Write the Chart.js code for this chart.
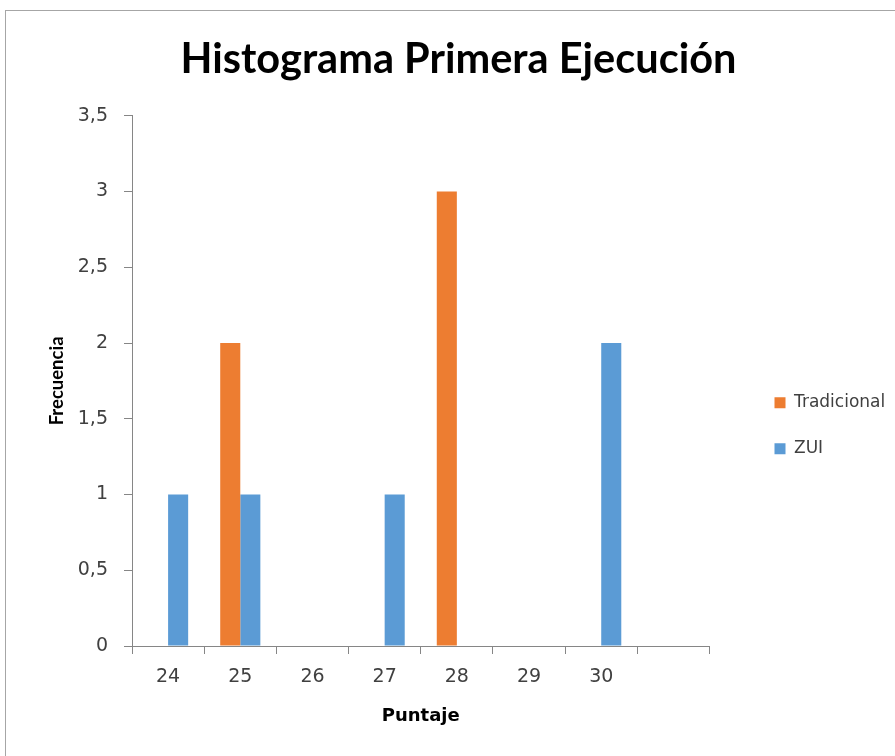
<!DOCTYPE html>
<html lang="es">
<head>
  <meta charset="utf-8">
  <title>Histograma Primera Ejecución</title>
  <script src="https://cdn.jsdelivr.net/npm/chart.js"></script>
  <style>
    body { margin: 0; background: #fff; }
    #marco {
      position: absolute; left: 5px; top: 10px;
      width: 900px; height: 760px;
      border: 1px solid #a6a6a6;
    }
    #lienzo { position: absolute; left: 0; top: 0; }
  </style>
</head>
<body>
  <div id="marco"></div>
  <canvas id="lienzo" width="895" height="756"></canvas>

  <script>
    // Datos del histograma
    const puntajes = ['24', '25', '26', '27', '28', '29', '30', ''];
    const tradicional = [0, 2, 0, 0, 3, 0, 0, 0];
    const zui = [1, 1, 0, 1, 0, 0, 2, 0];
    const marcasY = [0, 0.5, 1, 1.5, 2, 2.5, 3, 3.5];

    const fuenteTitulo = 'Lato, "Open Sans", sans-serif';
    const fuente = '"DejaVu Sans", sans-serif';
    const gris = '#868686';
    const texto = '#404040';

    const ctx = document.getElementById('lienzo').getContext('2d');

    new Chart(ctx, {
      type: 'bar',
      data: {
        labels: puntajes,
        datasets: [{
          label: 'Tradicional',
          data: tradicional,
          backgroundColor: '#ED7D31',
          borderWidth: 0
        }, {
          label: 'ZUI',
          data: zui,
          backgroundColor: '#5B9BD5',
          borderWidth: 0
        }]
      },
      options: {
        responsive: false,
        animation: false,
        categoryPercentage: 0.556,
        barPercentage: 1,
        layout: {
          padding: { left: 28, right: 6, top: 35, bottom: 29 }
        },
        plugins: {
          title: {
            display: true,
            text: 'Histograma Primera Ejecución',
            color: '#000',
            font: { family: fuenteTitulo, size: 41.5, weight: 'bold' },
            padding: { top: 0, bottom: 31 }
          },
          legend: {
            position: 'right',
            title: { display: true, text: '', padding: { top: 0, bottom: 75 } },
            labels: {
              color: texto,
              font: { family: fuente, size: 17 },
              boxWidth: 11,
              boxHeight: 11,
              padding: 29
            }
          },
          tooltip: { enabled: false }
        },
        scales: {
          x: {
            afterFit: function (eje) { eje.height = 81; },
            grid: {
              offset: true,
              drawOnChartArea: false,
              drawTicks: true,
              tickLength: 8,
              tickColor: gris
            },
            border: { display: true, color: gris, width: 1 },
            ticks: {
              color: texto,
              font: { family: fuente, size: 19 },
              padding: 12,
              maxRotation: 0
            },
            title: {
              display: true,
              text: 'Puntaje',
              color: '#000',
              font: { family: fuente, size: 18, weight: 'bold' },
              padding: { top: 17, bottom: 0 }
            }
          },
          y: {
            min: 0,
            max: 3.5,
            afterBuildTicks: function (eje) {
              eje.ticks = marcasY.map(v => ({ value: v }));
            },
            afterFit: function (eje) { eje.width = 104; },
            grid: {
              drawOnChartArea: false,
              drawTicks: true,
              tickLength: 8,
              tickColor: gris
            },
            border: { display: true, color: gris, width: 1 },
            ticks: {
              color: texto,
              font: { family: fuente, size: 19 },
              padding: 16,
              callback: function (v) {
                return String(v).replace('.', ',');
              }
            },
            title: {
              display: true,
              text: 'Frecuencia',
              color: '#000',
              font: { family: fuenteTitulo, size: 18.5, weight: 'bold' },
              padding: { top: 18, bottom: 10 }
            }
          },
          // espacio vacío entre el gráfico y la leyenda
          hueco: {
            type: 'linear',
            position: 'right',
            display: true,
            grid: { display: false },
            border: { display: false },
            ticks: { display: false },
            afterFit: function (eje) { eje.width = 36; }
          }
        }
      }
    });
  </script>
</body>
</html>
